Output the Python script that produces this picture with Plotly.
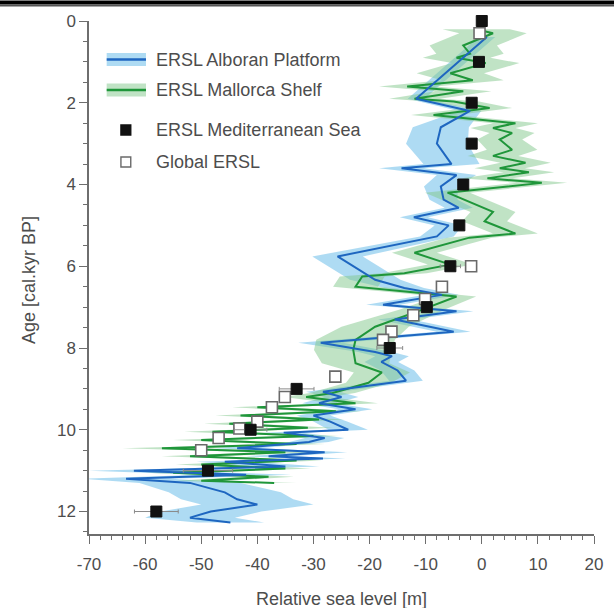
import plotly.graph_objects as go

# ---- Alboran Platform ERSL reconstruction (age in kyr BP, RSL in m) ----
alb_age = [0.39, 1.9, 2.2, 2.6, 3.0, 3.5, 3.6, 3.77, 4.05, 4.37, 4.57, 4.8, 5.0, 5.27,
           5.76, 6.33, 6.53, 6.7, 6.94, 7.1, 7.3, 7.6, 7.87, 8.1, 8.2, 8.34, 8.55, 8.8,
           9.07, 9.2, 9.35, 9.5, 9.65, 9.8, 10.0, 10.07, 10.2, 10.3, 10.45, 10.55, 10.65,
           10.7, 10.78, 10.9, 11.0, 11.1, 11.2, 11.3, 11.53, 11.7, 11.83, 12.0, 12.15,
           12.2, 12.27]
alb_rsl = [0.9, -11.7, -2.1, -7.3, -8.0, -5.4, -14.3, -4.5, -7.3, -6.8, -4.1, -12.1, -5.9, -8.0,
           -25.7, -19.0, -13.8, -7.1, -17.6, -4.5, -15.5, -5.0, -28.7, -19.0, -16.0, -17.9, -15.0, -13.5,
           -28.3, -25.0, -29.0, -22.5, -30.0, -27.0, -23.8, -35.3, -28.0, -30.8, -43.6, -28.0, -38.0,
           -28.3, -45.8, -35.0, -62.0, -42.0, -63.4, -52.0, -45.8, -43.6, -40.0, -48.3, -52.0,
           -49.2, -44.8]
alb_err = [1.5, 1.5, 2.0, 5.0, 5.5, 5.0, 4.0, 3.5, 3.0, 2.5, 2.5, 2.5, 2.5, 3.0,
           4.5, 4.5, 3.5, 3.0, 3.0, 3.0, 3.0, 3.0, 4.0, 3.0, 3.0, 3.0, 3.0, 3.0,
           3.0, 3.0, 3.0, 3.0, 3.0, 3.0, 3.5, 3.5, 3.5, 3.5, 4.0, 4.0, 4.0,
           4.0, 5.0, 6.0, 8.0, 8.0, 8.0, 9.0, 10.0, 10.0, 10.0, 9.0, 8.0,
           7.0, 6.0]

# ---- Mallorca Shelf ERSL reconstruction ----
mal_age = [0.2, 0.3, 0.6, 0.8, 0.9, 1.03, 1.28, 1.45, 1.6, 1.72, 1.9, 1.97, 2.13, 2.3,
           2.5, 2.62, 2.74, 2.9, 3.15, 3.3, 3.47, 3.6, 3.7, 3.85, 3.96, 4.2, 4.67, 4.9,
           5.2, 5.3, 5.67, 5.96, 6.17, 6.25, 6.5, 6.74, 7.06, 7.48, 7.8, 8.05, 8.37, 8.6,
           8.85, 9.1, 9.2, 9.35, 9.45, 9.55, 9.65, 9.75, 9.85, 9.95, 10.05, 10.15, 10.25,
           10.35, 10.45, 10.55, 10.65, 10.75, 10.85, 10.95, 11.05, 11.15, 11.25, 11.3]
mal_rsl = [-1.0, 2.0, -3.3, -2.1, -4.5, 0.7, -5.6, -1.6, -13.3, -3.3, -12.0, -5.0, 1.4, -8.6,
           6.0, 2.0, 5.4, 3.2, 5.4, 2.0, 7.8, 3.2, 8.4, 1.0, 10.7, -6.1, 2.0, 0.5,
           6.0, -2.2, -12.0, -5.6, -13.8, -21.3, -22.5, -4.5, -10.6, -19.0, -22.5, -22.9, -22.5, -17.8,
           -20.2, -26.6, -31.3, -22.5, -40.0, -26.0, -43.0, -29.0, -45.0, -31.0, -48.0, -30.0, -50.0,
           -33.0, -57.0, -35.0, -52.0, -33.0, -50.0, -35.0, -55.0, -38.0, -50.0, -37.0]
mal_err = [6.0, 6.0, 6.0, 6.0, 6.0, 6.0, 6.0, 5.5, 5.0, 5.0, 4.5, 4.5, 4.0, 4.0,
           4.0, 4.0, 4.0, 4.0, 4.5, 4.5, 4.5, 4.5, 4.5, 4.5, 4.5, 4.0, 4.0, 4.0,
           4.0, 4.0, 4.0, 4.0, 4.0, 4.0, 4.0, 3.5, 4.0, 6.0, 7.0, 7.0, 6.0, 5.0,
           4.0, 4.0, 4.0, 4.0, 4.5, 4.5, 4.5, 4.5, 4.5, 4.5, 5.0, 4.5, 5.0,
           5.0, 7.0, 5.0, 5.0, 4.5, 4.5, 4.5, 5.0, 4.5, 4.5, 4.0]

# ---- Mediterranean ERSL (with uncertainty in RSL) ----
med_age = [0, 1, 2, 3, 4, 5, 6, 7, 8, 9, 10, 11, 12]
med_rsl = [0.0, -0.5, -1.8, -1.8, -3.3, -4.0, -5.6, -9.8, -16.4, -33.0, -41.2, -48.8, -58.0]
med_err = [0.3, 0.3, 0.3, 0.3, 0.3, 0.3, 1.8, 1.0, 2.3, 3.1, 2.9, 4.4, 3.9]

# ---- Global ERSL ----
glb_age = [0.3, 6.0, 6.5, 6.8, 7.2, 7.6, 7.8, 8.7, 9.2, 9.45, 9.8, 9.97, 10.2, 10.5]
glb_rsl = [-0.4, -1.9, -7.1, -10.1, -12.2, -16.1, -17.6, -26.1, -35.1, -37.4, -40.0, -43.2, -46.9, -50.0]

# ---- axis ticks ----
x_ticks = [-70, -60, -50, -40, -30, -20, -10, 0, 10, 20]
x_labels = ["-70", "-60", "-50", "-40", "-30", "-20", "-10", "0", "10", "20"]
y_ticks = [0, 2, 4, 6, 8, 10, 12]

BLUE = "#1e66c0"
BLUE_BAND = "rgba(120,195,235,0.6)"
GREEN = "#1f963a"
GREEN_BAND = "rgba(130,200,140,0.5)"
TEXT = "#4d4d4d"
AXIS = "#6e6e6e"
FONT = "Liberation Sans"


def band(age, val, err):
    lo = [v - e for v, e in zip(val, err)]
    hi = [v + e for v, e in zip(val, err)]
    return lo + hi[::-1], list(age) + list(age)[::-1]


fig = go.Figure()

bx, by = band(alb_age, alb_rsl, alb_err)
fig.add_trace(go.Scatter(x=bx, y=by, fill="toself", fillcolor=BLUE_BAND,
                         line=dict(width=0), mode="lines", hoverinfo="skip"))
gx, gy = band(mal_age, mal_rsl, mal_err)
fig.add_trace(go.Scatter(x=gx, y=gy, fill="toself", fillcolor=GREEN_BAND,
                         line=dict(width=0), mode="lines", hoverinfo="skip"))
fig.add_trace(go.Scatter(x=mal_rsl, y=mal_age, mode="lines",
                         line=dict(color=GREEN, width=2)))
fig.add_trace(go.Scatter(x=alb_rsl, y=alb_age, mode="lines",
                         line=dict(color=BLUE, width=2)))
fig.add_trace(go.Scatter(x=glb_rsl, y=glb_age, mode="markers", cliponaxis=False,
                         marker=dict(symbol="square", size=11, color="white",
                                     line=dict(color="#6a6a6a", width=1.6))))
fig.add_trace(go.Scatter(x=med_rsl, y=med_age, mode="markers", cliponaxis=False,
                         error_x=dict(type="data", array=med_err, color="#8a8a8a",
                                      thickness=1, width=2),
                         marker=dict(symbol="square", size=11, color="#111111",
                                     line=dict(color="#111111", width=1))))

# ---- legend drawn by hand (band + line swatches) ----
L, R = 89, 603
T, B = 21, 534


def px(x):
    return (x - L) / (R - L)


def py(y):
    return (B - y) / (B - T)


shapes = []
annots = []
for (yc, fillc, linec) in [(59.5, BLUE_BAND, BLUE), (90, GREEN_BAND, GREEN)]:
    shapes.append(dict(type="rect", xref="paper", yref="paper", x0=px(107), x1=px(147),
                       y0=py(yc - 6.5), y1=py(yc + 6.5), fillcolor=fillc, line=dict(width=0)))
    shapes.append(dict(type="line", xref="paper", yref="paper", x0=px(107), x1=px(147),
                       y0=py(yc), y1=py(yc), line=dict(color=linec, width=2.5)))
for (yc, fillc, linec) in [(130, "#111111", "#111111"), (162, "white", "#6a6a6a")]:
    shapes.append(dict(type="rect", xref="paper", yref="paper", x0=px(121.5), x1=px(131.5),
                       y0=py(yc - 5), y1=py(yc + 5), fillcolor=fillc, line=dict(color=linec, width=1.4)))
labels = [("ERSL Alboran Platform", 59.5), ("ERSL Mallorca Shelf", 90),
          ("ERSL Mediterranean Sea", 130), ("Global ERSL", 162)]
for txt, yc in labels:
    annots.append(dict(text=txt, xref="paper", yref="paper", x=px(155), y=py(yc),
                       xanchor="left", yanchor="middle", showarrow=False,
                       font=dict(family=FONT, size=18, color=TEXT)))

# axis titles
annots.append(dict(text="Relative sea level [m]", xref="paper", yref="paper",
                   x=0.5, y=py(599), xanchor="center", yanchor="middle", showarrow=False,
                   font=dict(family=FONT, size=18, color=TEXT)))
annots.append(dict(text="Age [cal.kyr BP]", xref="paper", yref="paper",
                   x=px(28), y=py(280), xanchor="center", yanchor="middle", showarrow=False,
                   textangle=-90, font=dict(family=FONT, size=18, color=TEXT)))

# frame rule across the top of the page
annots.append(dict(text=" ", xref="paper", yref="paper", x=px(-5), y=py(0),
                   xanchor="left", yanchor="top", showarrow=False,
                   width=630, height=3, bgcolor="black", borderpad=0,
                   font=dict(size=1)))
annots.append(dict(text=" ", xref="paper", yref="paper", x=px(-5), y=py(4),
                   xanchor="left", yanchor="top", showarrow=False,
                   width=630, height=1, bgcolor="#555555", borderpad=0,
                   font=dict(size=1)))

fig.update_layout(
    width=614, height=608,
    margin=dict(l=L, r=614 - R, t=T, b=608 - B),
    plot_bgcolor="white", paper_bgcolor="white",
    showlegend=False,
    shapes=shapes, annotations=annots,
    font=dict(family=FONT, size=17, color=TEXT),
)
fig.update_xaxes(range=[-70, 20], tickmode="array", tickvals=x_ticks, ticktext=x_labels,
                 showgrid=False, zeroline=False,
                 showline=True, linecolor=AXIS, linewidth=1.5,
                 ticks="outside", ticklen=8, tickwidth=1.3, tickcolor=AXIS,
                 ticklabelstandoff=6,
                 minor=dict(dtick=2, tick0=-70, ticks="outside", ticklen=4, tickcolor=AXIS, tickwidth=1.2),
                 tickfont=dict(family=FONT, size=17, color=TEXT))
fig.update_yaxes(range=[12.55, 0], tickmode="array", tickvals=y_ticks,
                 showgrid=False, zeroline=False,
                 showline=True, linecolor=AXIS, linewidth=1.5,
                 ticks="outside", ticklen=8, tickwidth=1.3, tickcolor=AXIS,
                 minor=dict(dtick=0.5, tick0=0, ticks="outside", ticklen=4, tickcolor=AXIS, tickwidth=1.2),
                 tickfont=dict(family=FONT, size=17, color=TEXT))

fig.write_html("out.html")
